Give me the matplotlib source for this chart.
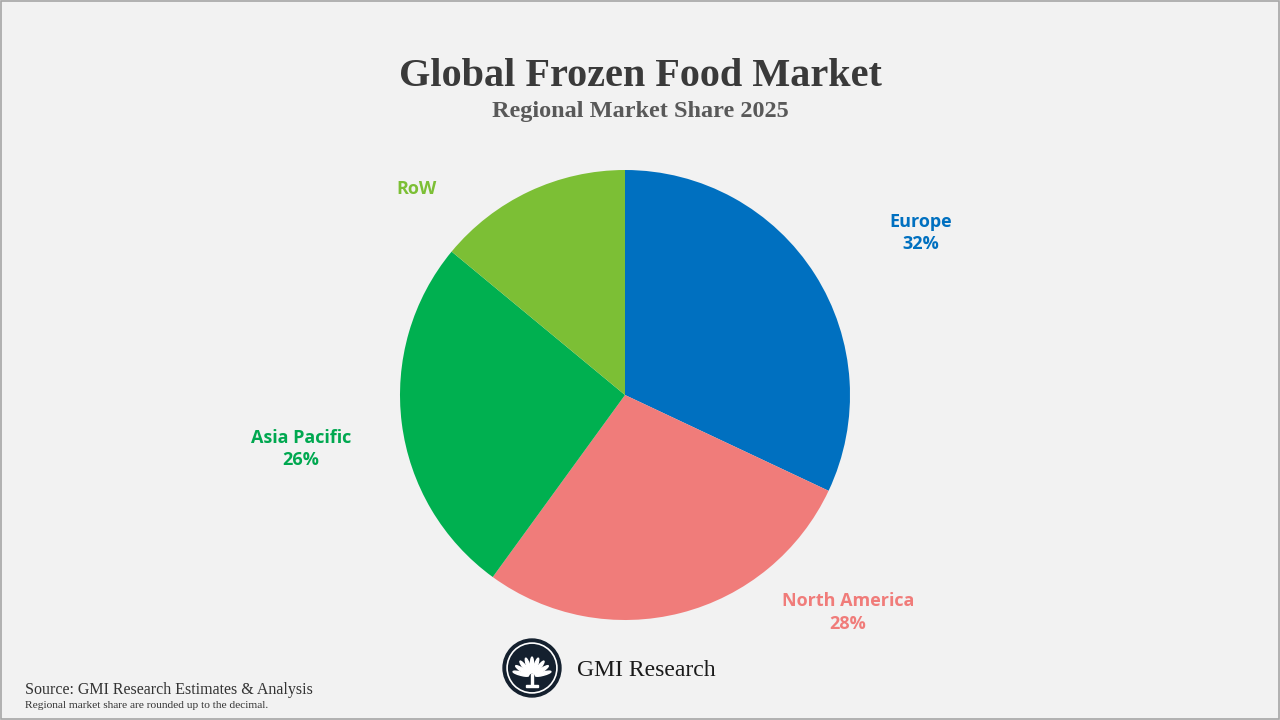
import matplotlib
matplotlib.use("Agg")
import matplotlib.pyplot as plt
from matplotlib.patches import Circle, Ellipse, Rectangle
import numpy as np

# ---- data ----
regions = ["Europe", "North America", "Asia Pacific", "RoW"]
shares = [32, 28, 26, 14]
colors = ["#0070C0", "#F07C7A", "#00B050", "#7CBF35"]
label_text_colors = ["#0070C0", "#F07C7A", "#00A850", "#7CBF35"]
show_pct = [True, True, True, False]
# label anchor positions (in pie-axes units, radius=1)
label_pos = [(1.316, 0.72), (0.99, -0.965), (-1.44, -0.24), (-0.925, 0.915)]

title = "Global Frozen Food Market"
subtitle = "Regional Market Share 2025"
source = "Source: GMI Research Estimates & Analysis"
note = "Regional market share are rounded up to the decimal."
brand = "GMI Research"

W, H = 1280, 720
fig = plt.figure(figsize=(W / 100, H / 100), dpi=100)
bg = "#F2F2F2"
fig.patch.set_facecolor(bg)

# border
fig.add_artist(Rectangle((0.0005, 0.001), 0.999, 0.998, transform=fig.transFigure,
                         fill=False, edgecolor="#A6A6A6", linewidth=1.2))

# pie
cx, cy, r = 625, 395, 225
ax = fig.add_axes([(cx - r) / W, 1 - (cy + r) / H, 2 * r / W, 2 * r / H])
ax.set_facecolor("none")
ax.pie(shares, colors=colors, startangle=90, counterclock=False, radius=1,
       wedgeprops=dict(linewidth=0))
ax.set_xlim(-1, 1)
ax.set_ylim(-1, 1)
ax.set_aspect("equal")
ax.axis("off")

for name, val, col, sp, (lx, ly) in zip(regions, shares, label_text_colors, show_pct, label_pos):
    txt = f"{name}\n{val}%" if sp else name
    ax.text(lx, ly, txt, ha="center", va="center", color=col, fontsize=13,
            fontweight="bold", family="Open Sans", linespacing=1.35, clip_on=False)

# titles
fig.text(0.5, 1 - 76 / H, title, ha="center", va="center", fontsize=29,
         fontweight="bold", family="Liberation Serif", color="#3A3A3A")
fig.text(0.5, 1 - 112 / H, subtitle, ha="center", va="center", fontsize=17.5,
         fontweight="bold", family="Liberation Serif", color="#595959")

# source
fig.text(25 / W, 1 - 690 / H, source, ha="left", va="center", fontsize=11.5,
         family="Liberation Serif", color="#333333")
fig.text(25 / W, 1 - 705 / H, note, ha="left", va="center", fontsize=8.2,
         family="Liberation Serif", color="#333333")

# logo
lx0, ly0, lr = 532, 668, 29
lax = fig.add_axes([(lx0 - lr - 2) / W, 1 - (ly0 + lr + 2) / H, (2 * lr + 4) / W, (2 * lr + 4) / H])
lax.set_xlim(-1.07, 1.07)
lax.set_ylim(-1.07, 1.07)
lax.set_aspect("equal")
lax.axis("off")
navy = "#14202E"
lax.add_patch(Circle((0, 0), 1.0, color=navy))
lax.add_patch(Circle((0, 0), 0.86, fill=False, edgecolor="white", linewidth=1.2))
base = (0.0, -0.3)
for ang in np.linspace(15, 165, 9):
    a = np.deg2rad(ang)
    x, y = base[0] + 0.4 * np.cos(a), base[1] + 0.4 * np.sin(a)
    lax.add_patch(Ellipse((x, y), 0.11, 0.55, angle=ang - 90, color="white"))
lax.add_patch(Rectangle((-0.04, -0.62), 0.08, 0.4, color="white"))
lax.add_patch(Rectangle((-0.2, -0.64), 0.4, 0.05, color="white"))

fig.text(577 / W, 1 - 670 / H, brand, ha="left", va="center", fontsize=17,
         family="Liberation Serif", color="#1A1A1A")

fig.savefig("out.png", dpi=100, facecolor=bg)
